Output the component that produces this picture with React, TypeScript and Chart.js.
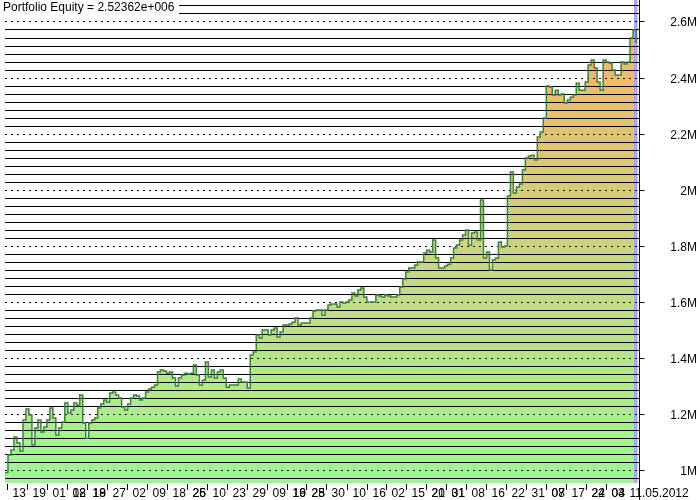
import { useEffect, useRef } from 'react';
import { Chart, registerables } from 'chart.js';

Chart.register(...registerables);

// Portfolio equity, in thousands, one value per bar (resampled)
const equity: number[] = [
  990, 1053, 1071, 1117, 1096, 1067, 1178, 1217, 1196, 1089,
  1149, 1178, 1135, 1153, 1178, 1221, 1185, 1124, 1149, 1171,
  1238, 1203, 1213, 1238, 1231, 1267, 1167, 1113, 1167, 1178,
  1185, 1221, 1235, 1249, 1242, 1274, 1278, 1267, 1256, 1224,
  1213, 1235, 1256, 1267, 1263, 1249, 1256, 1278, 1288, 1295,
  1303, 1349, 1356, 1353, 1345, 1349, 1328, 1299, 1328, 1338,
  1345, 1342, 1345, 1374, 1338, 1303, 1320, 1385, 1331, 1356,
  1328, 1349, 1356, 1328, 1295, 1303, 1303, 1303, 1324, 1313,
  1313, 1292, 1410, 1420, 1481, 1470, 1499, 1499, 1481, 1499,
  1506, 1474, 1492, 1517, 1517, 1520, 1527, 1542, 1517, 1524,
  1524, 1524, 1542, 1567, 1570, 1570, 1552, 1570, 1588, 1592,
  1592, 1581, 1599, 1595, 1599, 1606, 1631, 1620, 1642, 1649,
  1617, 1599, 1599, 1599, 1624, 1620, 1617, 1624, 1620, 1617,
  1617, 1624, 1652, 1681, 1706, 1720, 1720, 1731, 1742, 1742,
  1774, 1784, 1777, 1820, 1756, 1720, 1720, 1727, 1734, 1756,
  1792, 1802, 1820, 1838, 1856, 1802, 1845, 1849, 1820, 1963,
  1756, 1777, 1713, 1749, 1756, 1813, 1795, 1799, 1977, 2063,
  1988, 2009, 2020, 2070, 2113, 2120, 2123, 2106, 2188, 2206,
  2256, 2370, 2366, 2338, 2355, 2338, 2341, 2309, 2320, 2330,
  2338, 2380, 2355, 2355, 2384, 2445, 2463, 2434, 2384, 2355,
  2463, 2455, 2452, 2427, 2409, 2409, 2455, 2448, 2455, 2541,
  2570, 2523.62,
];

// Date labels on the bottom axis (bar index where each is drawn)
const xLabelPos: number[] = [
  0.7, 7.3, 14.0, 20.7, 27.4, 34.1, 40.7, 47.4, 54.1, 60.8,
  67.4, 74.1, 80.8, 87.5, 94.2, 100.8, 107.5, 114.2, 120.9, 127.5,
  134.2, 140.9, 147.6, 154.3, 160.9, 167.6, 174.3, 181.0, 187.6, 194.3,
  201.0,
];
const xLabelsA: string[] = [
  '13', '19', '01', '08', '19', '27', '02', '09', '18', '25',
  '10', '23', '29', '09', '19', '25', '30', '10', '16', '02',
  '15', '20', '01', '08', '16', '22', '31', '07', '17', '22',
  '03',
];
const xLabelsB: string[] = [
  '', '', '', '12', '18', '', '', '', '', '26',
  '', '', '', '', '16', '28', '', '', '', '',
  '', '21', '31', '', '', '', '', '08', '', '24',
  '04',
];
const endLabel = '11.05.2012';
const endLabelPos = 207;

const yMajorTicks: number[] = [1000, 1200, 1400, 1600, 1800, 2000, 2200, 2400, 2600];
const yMajorLabels: string[] = ['1M', '1.2M', '1.4M', '1.6M', '1.8M', '2M', '2.2M', '2.4M', '2.6M'];
const titleText = 'Portfolio Equity = 2.52362e+006';

const FONT = '12px "Liberation Sans", Arial, sans-serif';

const overlay = {
  id: 'overlay',
  beforeDatasetDraw(chart: any) {
    const { ctx, chartArea: a, scales } = chart;
    const x = scales.x;
    const y = scales.y;
    ctx.save();
    // selected-bar band
    const lx = x.getPixelForValue(equity.length - 1);
    ctx.fillStyle = '#a8a8f2';
    ctx.fillRect(Math.round(lx) - 2, a.top, 3.5, a.bottom - a.top);
    // horizontal grid
    ctx.strokeStyle = '#000';
    ctx.lineWidth = 1;
    const step = 200 / 7;
    for (let k = -3; k < 200; k++) {
      const v = 1000 + k * step;
      if (v > y.max) break;
      if (v < y.min) continue;
      const py = Math.round(y.getPixelForValue(v)) + 0.5;
      ctx.setLineDash(k % 7 === 0 ? [2, 4] : []);
      ctx.beginPath();
      ctx.moveTo(a.left, py);
      ctx.lineTo(a.right, py);
      ctx.stroke();
    }
    ctx.restore();
  },
  afterDraw(chart: any) {
    const { ctx, chartArea: a, scales } = chart;
    const x = scales.x;
    const y = scales.y;
    ctx.save();
    ctx.strokeStyle = '#000';
    ctx.lineWidth = 1;
    ctx.setLineDash([]);
    // right axis line
    const ax = a.right + 0.5;
    ctx.beginPath();
    ctx.moveTo(ax, 0);
    ctx.lineTo(ax, 500);
    ctx.stroke();
    // y ticks + labels
    ctx.font = FONT;
    ctx.fillStyle = '#000';
    ctx.textAlign = 'right';
    ctx.textBaseline = 'middle';
    yMajorTicks.forEach((v, i) => {
      const py = Math.round(y.getPixelForValue(v)) + 0.5;
      ctx.beginPath();
      ctx.moveTo(ax, py);
      ctx.lineTo(ax + 5, py);
      ctx.stroke();
      ctx.fillText(yMajorLabels[i], 697, py + 1);
    });
    // x ticks + labels
    ctx.textAlign = 'left';
    ctx.textBaseline = 'alphabetic';
    xLabelPos.forEach((p, i) => {
      const px = Math.round(x.getPixelForValue(p)) + 0.5;
      ctx.beginPath();
      ctx.moveTo(px, a.bottom + 1);
      ctx.lineTo(px, a.bottom + 7);
      ctx.stroke();
      ctx.fillText(xLabelsA[i], px + 5, 497);
      if (xLabelsB[i]) ctx.fillText(xLabelsB[i], px + 5, 497);
    });
    const ex = Math.round(x.getPixelForValue(endLabelPos)) + 0.5;
    ctx.fillText(endLabel, ex + 5, 497);
    // title
    ctx.fillStyle = '#fff';
    ctx.fillRect(0, 0, 179, 16);
    ctx.fillStyle = '#000';
    ctx.textBaseline = 'top';
    ctx.fillText(titleText, 3, 2);
    ctx.restore();
  },
};

export default function App() {
  const ref = useRef<HTMLCanvasElement | null>(null);
  useEffect(() => {
    if (!ref.current) return;
    const chart = new Chart(ref.current, {
      type: 'line',
      data: {
        datasets: [
          {
            data: equity.map((v, i) => ({ x: i, y: v })),
            stepped: true,
            borderColor: '#3f7f3f',
            borderWidth: 1.5,
            pointRadius: 0,
            fill: 'start',
            backgroundColor: (c: any) => {
              const a = c.chart.chartArea;
              if (!a) return 'rgb(200,215,125)';
              const g = c.chart.ctx.createLinearGradient(0, a.bottom, 0, a.top);
              g.addColorStop(0, 'rgb(158,246,152)');
              g.addColorStop(1, 'rgb(250,178,92)');
              return g;
            },
          },
        ],
      },
      options: {
        animation: false,
        responsive: false,
        events: [],
        layout: { padding: { left: 5, right: 61, top: 0, bottom: 17 } },
        plugins: { legend: { display: false }, tooltip: { enabled: false } },
        scales: {
          x: { type: 'linear', min: 0, max: equity.length, display: false },
          y: { type: 'linear', min: 952.9, max: 2676.7, display: false },
        },
      },
      plugins: [overlay],
    });
    return () => chart.destroy();
  }, []);
  return (
    <div style={{ position: 'absolute', left: 0, top: 0, width: 700, height: 500, background: '#fff' }}>
      <canvas ref={ref} width={700} height={500} style={{ display: 'block' }} />
    </div>
  );
}
